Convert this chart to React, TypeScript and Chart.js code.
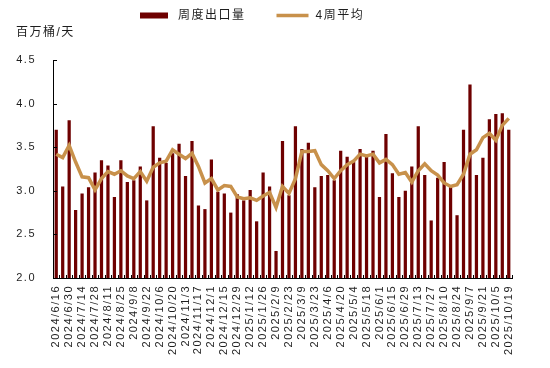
import React, { useEffect, useRef } from "react";
import { Chart, registerables } from "chart.js";

Chart.register(...registerables);

const dates: string[] = [
  "2024/6/16", "2024/6/23", "2024/6/30", "2024/7/7", "2024/7/14", "2024/7/21", "2024/7/28", "2024/8/4",
  "2024/8/11", "2024/8/18", "2024/8/25", "2024/9/1", "2024/9/8", "2024/9/15", "2024/9/22", "2024/9/29",
  "2024/10/6", "2024/10/13", "2024/10/20", "2024/10/27", "2024/11/3", "2024/11/10", "2024/11/17", "2024/11/24",
  "2024/12/1", "2024/12/8", "2024/12/15", "2024/12/22", "2024/12/29", "2025/1/5", "2025/1/12", "2025/1/19",
  "2025/1/26", "2025/2/2", "2025/2/9", "2025/2/16", "2025/2/23", "2025/3/2", "2025/3/9", "2025/3/16",
  "2025/3/23", "2025/3/30", "2025/4/6", "2025/4/13", "2025/4/20", "2025/4/27", "2025/5/4", "2025/5/11",
  "2025/5/18", "2025/5/25", "2025/6/1", "2025/6/8", "2025/6/15", "2025/6/22", "2025/6/29", "2025/7/6",
  "2025/7/13", "2025/7/20", "2025/7/27", "2025/8/3", "2025/8/10", "2025/8/17", "2025/8/24", "2025/8/31",
  "2025/9/7", "2025/9/14", "2025/9/21", "2025/9/28", "2025/10/5", "2025/10/12", "2025/10/19",
];

const weeklyExports: number[] = [
  3.70, 3.05, 3.81, 2.78, 2.97, 3.04, 3.21, 3.35, 3.29, 2.93,
  3.35, 3.10, 3.12, 3.28, 2.89, 3.74, 3.38, 3.32, 3.43, 3.54,
  3.17, 3.57, 2.83, 2.79, 3.36, 2.99, 2.97, 2.75, 2.96, 2.89,
  3.01, 2.65, 3.21, 3.05, 2.31, 3.57, 2.95, 3.74, 3.48, 3.55,
  3.04, 3.17, 3.18, 3.12, 3.46, 3.39, 3.33, 3.48, 3.39, 3.46,
  2.93, 3.65, 3.20, 2.93, 3.00, 3.28, 3.74, 3.18, 2.66, 3.15,
  3.33, 3.05, 2.72, 3.70, 4.22, 3.18, 3.38, 3.82, 3.88, 3.89, 3.70,
];

const fourWeekAvg: number[] = [
  3.42, 3.38, 3.52, 3.33, 3.16, 3.15, 3.01, 3.14, 3.22, 3.19,
  3.23, 3.17, 3.14, 3.22, 3.11, 3.27, 3.32, 3.34, 3.47, 3.42,
  3.37, 3.43, 3.28, 3.09, 3.14, 3.01, 3.06, 3.05, 2.93, 2.91,
  2.92, 2.89, 2.94, 2.98, 2.81, 3.05, 2.97, 3.14, 3.45, 3.45,
  3.46, 3.30, 3.23, 3.14, 3.23, 3.30, 3.34, 3.42, 3.40, 3.42,
  3.32, 3.36, 3.30, 3.19, 3.21, 3.10, 3.23, 3.31, 3.23, 3.18,
  3.09, 3.05, 3.07, 3.19, 3.42, 3.47, 3.61, 3.66, 3.58, 3.75, 3.83,
];

const seriesNames: string[] = ["周度出口量", "4周平均"];
const yUnit = "百万桶/天";

const BAR_COLOR = "#6E0000";
const LINE_COLOR = "#C8914B";
const TEXT_COLOR = "#1e1e1e";
const FONT_FAMILY = "'Liberation Sans', 'Noto Sans CJK SC', sans-serif";
const SPACING = "1.5px";

const spacingPlugin = {
  id: "spacing",
  beforeLayout(chart: any) {
    chart.ctx.letterSpacing = SPACING;
  },
  beforeDraw(chart: any) {
    chart.ctx.letterSpacing = SPACING;
  },
};

const decorPlugin = {
  id: "decor",
  afterDraw(chart: any) {
    const ctx = chart.ctx;
    const { left, right, bottom } = chart.chartArea;
    const xs = chart.scales.x;
    const ys = chart.scales.y;
    ctx.save();
    ctx.letterSpacing = SPACING;
    // inward tick marks
    ctx.strokeStyle = "#000";
    ctx.lineWidth = 1;
    ctx.beginPath();
    ys.ticks.forEach((t: any) => {
      const y = Math.round(ys.getPixelForValue(t.value)) + 0.5;
      ctx.moveTo(left, y);
      ctx.lineTo(left + 4, y);
    });
    const n = chart.data.labels.length;
    const w = (right - left) / n;
    for (let i = 0; i <= n; i++) {
      const x = Math.round(left + i * w) + 0.5;
      ctx.moveTo(x, bottom);
      ctx.lineTo(x, bottom - 3);
    }
    ctx.stroke();

    // legend
    ctx.font = `12px ${FONT_FAMILY}`;
    ctx.fillStyle = TEXT_COLOR;
    ctx.textBaseline = "middle";
    ctx.textAlign = "left";
    const ds = chart.data.datasets;
    const cy = 16;
    let x = 140;
    ctx.fillStyle = ds[0].backgroundColor;
    ctx.fillRect(x, cy - 3.5, 28, 6);
    x += 28 + 10;
    ctx.fillStyle = TEXT_COLOR;
    ctx.fillText(ds[0].label, x, cy);
    x += ctx.measureText(ds[0].label).width + 31;
    ctx.strokeStyle = ds[1].borderColor;
    ctx.lineWidth = 3.5;
    ctx.beginPath();
    ctx.moveTo(x, cy - 0.5);
    ctx.lineTo(x + 32, cy - 0.5);
    ctx.stroke();
    x += 32 + 7;
    ctx.fillText(ds[1].label, x, cy);

    // unit title
    ctx.fillText(yUnit, 16, 32.5);
    ctx.restore();
  },
};

export default function App() {
  const ref = useRef<HTMLCanvasElement | null>(null);
  useEffect(() => {
    if (!ref.current) return;
    const chart = new Chart(ref.current, {
      type: "bar",
      data: {
        labels: dates,
        datasets: [
          {
            type: "line",
            label: seriesNames[1],
            data: fourWeekAvg,
            borderColor: LINE_COLOR,
            backgroundColor: LINE_COLOR,
            borderWidth: 3.5,
            pointRadius: 0,
            tension: 0,
            order: 1,
          } as any,
          {
            type: "bar",
            label: seriesNames[0],
            data: weeklyExports,
            backgroundColor: BAR_COLOR,
            categoryPercentage: 1,
            barPercentage: 0.5,
            order: 2,
          },
        ].reverse(),
      },
      options: {
        responsive: false,
        animation: false,
        devicePixelRatio: 1,
        layout: { padding: { top: 60, left: 0, right: 38, bottom: 0 } },
        plugins: {
          legend: { display: false },
          tooltip: { enabled: false },
          title: { display: false },
        },
        scales: {
          x: {
            grid: { display: false, drawTicks: false },
            border: { display: true, color: "#000", width: 1 },
            ticks: {
              autoSkip: false,
              maxRotation: 90,
              minRotation: 90,
              padding: 7,
              color: TEXT_COLOR,
              font: { size: 11, family: FONT_FAMILY },
              callback: (_v: any, i: number) => (i % 2 === 0 ? dates[i] : ""),
            },
            afterFit: (s: any) => {
              s.height = 90;
            },
          },
          y: {
            min: 2,
            max: 4.5,
            grid: { display: false, drawTicks: false },
            border: { display: true, color: "#000", width: 1 },
            ticks: {
              stepSize: 0.5,
              padding: 17,
              color: TEXT_COLOR,
              font: { size: 11, family: FONT_FAMILY },
              callback: (v: any) => Number(v).toFixed(1),
            },
            afterFit: (s: any) => {
              s.width = 53;
            },
          },
        },
      },
      plugins: [spacingPlugin, decorPlugin],
    });
    return () => chart.destroy();
  }, []);
  return (
    <div style={{ position: "fixed", left: 0, top: 0, width: 550, height: 368, background: "#fff" }}>
      <canvas ref={ref} width={550} height={368} style={{ display: "block" }} />
    </div>
  );
}
